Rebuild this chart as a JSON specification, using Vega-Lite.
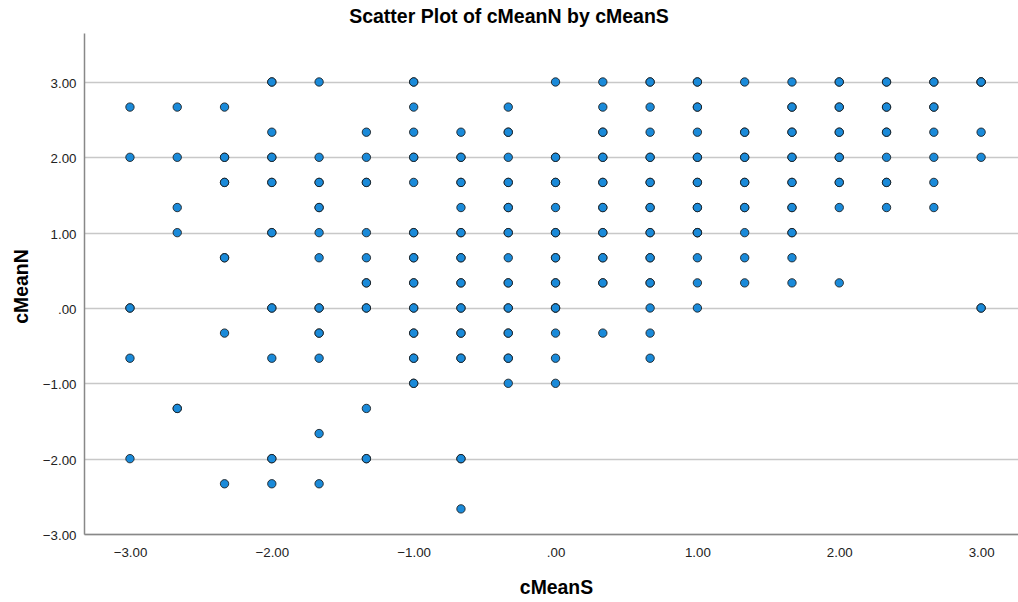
{
  "$schema": "https://vega.github.io/schema/vega-lite/v6.json",
  "width": 934,
  "height": 501,
  "autosize": {"type": "none"},
  "padding": {"left": 84, "top": 33, "right": 0, "bottom": 68},
  "background": "white",
  "title": {
    "text": "Scatter Plot of cMeanN by cMeanS",
    "font": "Liberation Sans",
    "fontSize": 19.5,
    "fontWeight": "bold",
    "color": "#000000",
    "anchor": "middle",
    "dx": -42,
    "offset": 6
  },
  "config": {
    "view": {"stroke": null},
    "axis": {
      "labelFont": "Liberation Sans",
      "labelFontSize": 13.3,
      "labelColor": "#222222",
      "titleFont": "Liberation Sans",
      "titleFontSize": 19.4,
      "titleFontWeight": "bold",
      "titleColor": "#000000",
      "domainColor": "#888888",
      "domainWidth": 1.5,
      "ticks": false
    }
  },
  "data": {
    "values": [
      {"cMeanS": -3, "cMeanN": 2.6667}, {"cMeanS": -3, "cMeanN": 2}, {"cMeanS": -3, "cMeanN": 0}, {"cMeanS": -3, "cMeanN": 0}, {"cMeanS": -3, "cMeanN": -0.6667}, {"cMeanS": -3, "cMeanN": -2},
      {"cMeanS": -2.6667, "cMeanN": 2.6667}, {"cMeanS": -2.6667, "cMeanN": 2}, {"cMeanS": -2.6667, "cMeanN": 1.3333}, {"cMeanS": -2.6667, "cMeanN": 1}, {"cMeanS": -2.6667, "cMeanN": -1.3333}, {"cMeanS": -2.6667, "cMeanN": -1.3333},
      {"cMeanS": -2.3333, "cMeanN": 2.6667}, {"cMeanS": -2.3333, "cMeanN": 2}, {"cMeanS": -2.3333, "cMeanN": 2}, {"cMeanS": -2.3333, "cMeanN": 1.6667}, {"cMeanS": -2.3333, "cMeanN": 1.6667}, {"cMeanS": -2.3333, "cMeanN": 0.6667}, {"cMeanS": -2.3333, "cMeanN": 0.6667}, {"cMeanS": -2.3333, "cMeanN": -0.3333}, {"cMeanS": -2.3333, "cMeanN": -2.3333},
      {"cMeanS": -2, "cMeanN": 3}, {"cMeanS": -2, "cMeanN": 3}, {"cMeanS": -2, "cMeanN": 2.3333}, {"cMeanS": -2, "cMeanN": 2}, {"cMeanS": -2, "cMeanN": 2}, {"cMeanS": -2, "cMeanN": 1.6667}, {"cMeanS": -2, "cMeanN": 1.6667}, {"cMeanS": -2, "cMeanN": 1}, {"cMeanS": -2, "cMeanN": 1}, {"cMeanS": -2, "cMeanN": 0}, {"cMeanS": -2, "cMeanN": 0}, {"cMeanS": -2, "cMeanN": -0.6667}, {"cMeanS": -2, "cMeanN": -2}, {"cMeanS": -2, "cMeanN": -2}, {"cMeanS": -2, "cMeanN": -2.3333},
      {"cMeanS": -1.6667, "cMeanN": 3}, {"cMeanS": -1.6667, "cMeanN": 2}, {"cMeanS": -1.6667, "cMeanN": 1.6667}, {"cMeanS": -1.6667, "cMeanN": 1.6667}, {"cMeanS": -1.6667, "cMeanN": 1.3333}, {"cMeanS": -1.6667, "cMeanN": 1.3333}, {"cMeanS": -1.6667, "cMeanN": 1}, {"cMeanS": -1.6667, "cMeanN": 0.6667}, {"cMeanS": -1.6667, "cMeanN": 0}, {"cMeanS": -1.6667, "cMeanN": 0}, {"cMeanS": -1.6667, "cMeanN": -0.3333}, {"cMeanS": -1.6667, "cMeanN": -0.3333}, {"cMeanS": -1.6667, "cMeanN": -0.6667}, {"cMeanS": -1.6667, "cMeanN": -1.6667}, {"cMeanS": -1.6667, "cMeanN": -2.3333},
      {"cMeanS": -1.3333, "cMeanN": 2.3333}, {"cMeanS": -1.3333, "cMeanN": 2}, {"cMeanS": -1.3333, "cMeanN": 1.6667}, {"cMeanS": -1.3333, "cMeanN": 1.6667}, {"cMeanS": -1.3333, "cMeanN": 1}, {"cMeanS": -1.3333, "cMeanN": 0.6667}, {"cMeanS": -1.3333, "cMeanN": 0.3333}, {"cMeanS": -1.3333, "cMeanN": 0.3333}, {"cMeanS": -1.3333, "cMeanN": 0}, {"cMeanS": -1.3333, "cMeanN": 0}, {"cMeanS": -1.3333, "cMeanN": -1.3333}, {"cMeanS": -1.3333, "cMeanN": -2}, {"cMeanS": -1.3333, "cMeanN": -2},
      {"cMeanS": -1, "cMeanN": 3}, {"cMeanS": -1, "cMeanN": 3}, {"cMeanS": -1, "cMeanN": 2.6667}, {"cMeanS": -1, "cMeanN": 2.3333}, {"cMeanS": -1, "cMeanN": 2}, {"cMeanS": -1, "cMeanN": 2}, {"cMeanS": -1, "cMeanN": 1.6667}, {"cMeanS": -1, "cMeanN": 1}, {"cMeanS": -1, "cMeanN": 1}, {"cMeanS": -1, "cMeanN": 0.6667}, {"cMeanS": -1, "cMeanN": 0.6667}, {"cMeanS": -1, "cMeanN": 0.3333}, {"cMeanS": -1, "cMeanN": 0.3333}, {"cMeanS": -1, "cMeanN": 0}, {"cMeanS": -1, "cMeanN": 0}, {"cMeanS": -1, "cMeanN": -0.3333}, {"cMeanS": -1, "cMeanN": -0.3333}, {"cMeanS": -1, "cMeanN": -0.6667}, {"cMeanS": -1, "cMeanN": -0.6667}, {"cMeanS": -1, "cMeanN": -1}, {"cMeanS": -1, "cMeanN": -1},
      {"cMeanS": -0.6667, "cMeanN": 2.3333}, {"cMeanS": -0.6667, "cMeanN": 2}, {"cMeanS": -0.6667, "cMeanN": 2}, {"cMeanS": -0.6667, "cMeanN": 1.6667}, {"cMeanS": -0.6667, "cMeanN": 1.6667}, {"cMeanS": -0.6667, "cMeanN": 1.3333}, {"cMeanS": -0.6667, "cMeanN": 1}, {"cMeanS": -0.6667, "cMeanN": 1}, {"cMeanS": -0.6667, "cMeanN": 0.6667}, {"cMeanS": -0.6667, "cMeanN": 0.6667}, {"cMeanS": -0.6667, "cMeanN": 0.3333}, {"cMeanS": -0.6667, "cMeanN": 0.3333}, {"cMeanS": -0.6667, "cMeanN": 0}, {"cMeanS": -0.6667, "cMeanN": 0}, {"cMeanS": -0.6667, "cMeanN": -0.3333}, {"cMeanS": -0.6667, "cMeanN": -0.3333}, {"cMeanS": -0.6667, "cMeanN": -0.6667}, {"cMeanS": -0.6667, "cMeanN": -0.6667}, {"cMeanS": -0.6667, "cMeanN": -2}, {"cMeanS": -0.6667, "cMeanN": -2}, {"cMeanS": -0.6667, "cMeanN": -2.6667},
      {"cMeanS": -0.3333, "cMeanN": 2.6667}, {"cMeanS": -0.3333, "cMeanN": 2.3333}, {"cMeanS": -0.3333, "cMeanN": 2.3333}, {"cMeanS": -0.3333, "cMeanN": 2}, {"cMeanS": -0.3333, "cMeanN": 1.6667}, {"cMeanS": -0.3333, "cMeanN": 1.6667}, {"cMeanS": -0.3333, "cMeanN": 1.3333}, {"cMeanS": -0.3333, "cMeanN": 1.3333}, {"cMeanS": -0.3333, "cMeanN": 1}, {"cMeanS": -0.3333, "cMeanN": 1}, {"cMeanS": -0.3333, "cMeanN": 0.6667}, {"cMeanS": -0.3333, "cMeanN": 0.3333}, {"cMeanS": -0.3333, "cMeanN": 0.3333}, {"cMeanS": -0.3333, "cMeanN": 0}, {"cMeanS": -0.3333, "cMeanN": 0}, {"cMeanS": -0.3333, "cMeanN": -0.3333}, {"cMeanS": -0.3333, "cMeanN": -0.3333}, {"cMeanS": -0.3333, "cMeanN": -0.6667}, {"cMeanS": -0.3333, "cMeanN": -0.6667}, {"cMeanS": -0.3333, "cMeanN": -1},
      {"cMeanS": 0, "cMeanN": 3}, {"cMeanS": 0, "cMeanN": 2}, {"cMeanS": 0, "cMeanN": 2}, {"cMeanS": 0, "cMeanN": 1.6667}, {"cMeanS": 0, "cMeanN": 1.6667}, {"cMeanS": 0, "cMeanN": 1.3333}, {"cMeanS": 0, "cMeanN": 1}, {"cMeanS": 0, "cMeanN": 1}, {"cMeanS": 0, "cMeanN": 0.6667}, {"cMeanS": 0, "cMeanN": 0.6667}, {"cMeanS": 0, "cMeanN": 0.3333}, {"cMeanS": 0, "cMeanN": 0.3333}, {"cMeanS": 0, "cMeanN": 0}, {"cMeanS": 0, "cMeanN": 0}, {"cMeanS": 0, "cMeanN": 0}, {"cMeanS": 0, "cMeanN": -0.3333}, {"cMeanS": 0, "cMeanN": -0.6667}, {"cMeanS": 0, "cMeanN": -1},
      {"cMeanS": 0.3333, "cMeanN": 3}, {"cMeanS": 0.3333, "cMeanN": 2.6667}, {"cMeanS": 0.3333, "cMeanN": 2.3333}, {"cMeanS": 0.3333, "cMeanN": 2.3333}, {"cMeanS": 0.3333, "cMeanN": 2}, {"cMeanS": 0.3333, "cMeanN": 2}, {"cMeanS": 0.3333, "cMeanN": 1.6667}, {"cMeanS": 0.3333, "cMeanN": 1.6667}, {"cMeanS": 0.3333, "cMeanN": 1.3333}, {"cMeanS": 0.3333, "cMeanN": 1.3333}, {"cMeanS": 0.3333, "cMeanN": 1}, {"cMeanS": 0.3333, "cMeanN": 1}, {"cMeanS": 0.3333, "cMeanN": 0.6667}, {"cMeanS": 0.3333, "cMeanN": 0.6667}, {"cMeanS": 0.3333, "cMeanN": 0.3333}, {"cMeanS": 0.3333, "cMeanN": 0.3333}, {"cMeanS": 0.3333, "cMeanN": -0.3333},
      {"cMeanS": 0.6667, "cMeanN": 3}, {"cMeanS": 0.6667, "cMeanN": 3}, {"cMeanS": 0.6667, "cMeanN": 2.6667}, {"cMeanS": 0.6667, "cMeanN": 2.3333}, {"cMeanS": 0.6667, "cMeanN": 2}, {"cMeanS": 0.6667, "cMeanN": 2}, {"cMeanS": 0.6667, "cMeanN": 1.6667}, {"cMeanS": 0.6667, "cMeanN": 1.6667}, {"cMeanS": 0.6667, "cMeanN": 1.3333}, {"cMeanS": 0.6667, "cMeanN": 1.3333}, {"cMeanS": 0.6667, "cMeanN": 1}, {"cMeanS": 0.6667, "cMeanN": 1}, {"cMeanS": 0.6667, "cMeanN": 0.6667}, {"cMeanS": 0.6667, "cMeanN": 0.6667}, {"cMeanS": 0.6667, "cMeanN": 0.3333}, {"cMeanS": 0.6667, "cMeanN": 0.3333}, {"cMeanS": 0.6667, "cMeanN": 0}, {"cMeanS": 0.6667, "cMeanN": -0.3333}, {"cMeanS": 0.6667, "cMeanN": -0.6667},
      {"cMeanS": 1, "cMeanN": 3}, {"cMeanS": 1, "cMeanN": 3}, {"cMeanS": 1, "cMeanN": 2.6667}, {"cMeanS": 1, "cMeanN": 2.6667}, {"cMeanS": 1, "cMeanN": 2.3333}, {"cMeanS": 1, "cMeanN": 2}, {"cMeanS": 1, "cMeanN": 2}, {"cMeanS": 1, "cMeanN": 1.6667}, {"cMeanS": 1, "cMeanN": 1.6667}, {"cMeanS": 1, "cMeanN": 1.3333}, {"cMeanS": 1, "cMeanN": 1.3333}, {"cMeanS": 1, "cMeanN": 1}, {"cMeanS": 1, "cMeanN": 1}, {"cMeanS": 1, "cMeanN": 1}, {"cMeanS": 1, "cMeanN": 0.6667}, {"cMeanS": 1, "cMeanN": 0.3333}, {"cMeanS": 1, "cMeanN": 0},
      {"cMeanS": 1.3333, "cMeanN": 3}, {"cMeanS": 1.3333, "cMeanN": 2.3333}, {"cMeanS": 1.3333, "cMeanN": 2.3333}, {"cMeanS": 1.3333, "cMeanN": 2}, {"cMeanS": 1.3333, "cMeanN": 2}, {"cMeanS": 1.3333, "cMeanN": 1.6667}, {"cMeanS": 1.3333, "cMeanN": 1.6667}, {"cMeanS": 1.3333, "cMeanN": 1.3333}, {"cMeanS": 1.3333, "cMeanN": 1.3333}, {"cMeanS": 1.3333, "cMeanN": 1}, {"cMeanS": 1.3333, "cMeanN": 0.6667}, {"cMeanS": 1.3333, "cMeanN": 0.3333},
      {"cMeanS": 1.6667, "cMeanN": 3}, {"cMeanS": 1.6667, "cMeanN": 2.6667}, {"cMeanS": 1.6667, "cMeanN": 2.6667}, {"cMeanS": 1.6667, "cMeanN": 2.3333}, {"cMeanS": 1.6667, "cMeanN": 2.3333}, {"cMeanS": 1.6667, "cMeanN": 2}, {"cMeanS": 1.6667, "cMeanN": 2}, {"cMeanS": 1.6667, "cMeanN": 1.6667}, {"cMeanS": 1.6667, "cMeanN": 1.6667}, {"cMeanS": 1.6667, "cMeanN": 1.3333}, {"cMeanS": 1.6667, "cMeanN": 1.3333}, {"cMeanS": 1.6667, "cMeanN": 1}, {"cMeanS": 1.6667, "cMeanN": 1}, {"cMeanS": 1.6667, "cMeanN": 0.6667}, {"cMeanS": 1.6667, "cMeanN": 0.3333},
      {"cMeanS": 2, "cMeanN": 3}, {"cMeanS": 2, "cMeanN": 3}, {"cMeanS": 2, "cMeanN": 2.6667}, {"cMeanS": 2, "cMeanN": 2.6667}, {"cMeanS": 2, "cMeanN": 2.3333}, {"cMeanS": 2, "cMeanN": 2.3333}, {"cMeanS": 2, "cMeanN": 2}, {"cMeanS": 2, "cMeanN": 2}, {"cMeanS": 2, "cMeanN": 1.6667}, {"cMeanS": 2, "cMeanN": 1.6667}, {"cMeanS": 2, "cMeanN": 1.3333}, {"cMeanS": 2, "cMeanN": 0.3333},
      {"cMeanS": 2.3333, "cMeanN": 3}, {"cMeanS": 2.3333, "cMeanN": 3}, {"cMeanS": 2.3333, "cMeanN": 2.6667}, {"cMeanS": 2.3333, "cMeanN": 2.6667}, {"cMeanS": 2.3333, "cMeanN": 2.3333}, {"cMeanS": 2.3333, "cMeanN": 2.3333}, {"cMeanS": 2.3333, "cMeanN": 2}, {"cMeanS": 2.3333, "cMeanN": 1.6667}, {"cMeanS": 2.3333, "cMeanN": 1.6667}, {"cMeanS": 2.3333, "cMeanN": 1.3333},
      {"cMeanS": 2.6667, "cMeanN": 3}, {"cMeanS": 2.6667, "cMeanN": 3}, {"cMeanS": 2.6667, "cMeanN": 2.6667}, {"cMeanS": 2.6667, "cMeanN": 2.6667}, {"cMeanS": 2.6667, "cMeanN": 2.3333}, {"cMeanS": 2.6667, "cMeanN": 2}, {"cMeanS": 2.6667, "cMeanN": 1.6667}, {"cMeanS": 2.6667, "cMeanN": 1.3333},
      {"cMeanS": 3, "cMeanN": 3}, {"cMeanS": 3, "cMeanN": 3}, {"cMeanS": 3, "cMeanN": 3}, {"cMeanS": 3, "cMeanN": 2.3333}, {"cMeanS": 3, "cMeanN": 2}, {"cMeanS": 3, "cMeanN": 0}, {"cMeanS": 3, "cMeanN": 0}
    ]
  },
  "mark": {
    "type": "point",
    "shape": "circle",
    "filled": true,
    "size": 70,
    "fill": "#1a8ad9",
    "stroke": "#1a1a1a",
    "strokeWidth": 1,
    "opacity": 1,
    "fillOpacity": 1,
    "strokeOpacity": 0.85
  },
  "encoding": {
    "x": {
      "field": "cMeanS",
      "type": "quantitative",
      "title": "cMeanS",
      "scale": {"domain": [-3.324, 3.26], "nice": false, "zero": false},
      "axis": {
        "values": [-3, -2, -1, 0, 1, 2, 3],
        "labelExpr": "datum.value == 0 ? '.00' : format(datum.value, '.2f')",
        "grid": false,
        "labelBaseline": "alphabetic",
        "labelPadding": 22,
        "titleBaseline": "alphabetic",
        "titleY": 59,
        "titleX": 472
      }
    },
    "y": {
      "field": "cMeanN",
      "type": "quantitative",
      "title": "cMeanN",
      "scale": {"domain": [-3, 3.65], "nice": false, "zero": false},
      "axis": {
        "values": [-3, -2, -1, 0, 1, 2, 3],
        "labelExpr": "datum.value == 0 ? '.00' : format(datum.value, '.2f')",
        "grid": true,
        "gridColor": "#c8c8c8",
        "gridWidth": 1.3,
        "labelPadding": 8,
        "labelBaseline": "middle",
        "labelOffset": 1.5,
        "titleX": -57,
        "titleY": 253,
        "titleBaseline": "alphabetic"
      }
    }
  }
}
